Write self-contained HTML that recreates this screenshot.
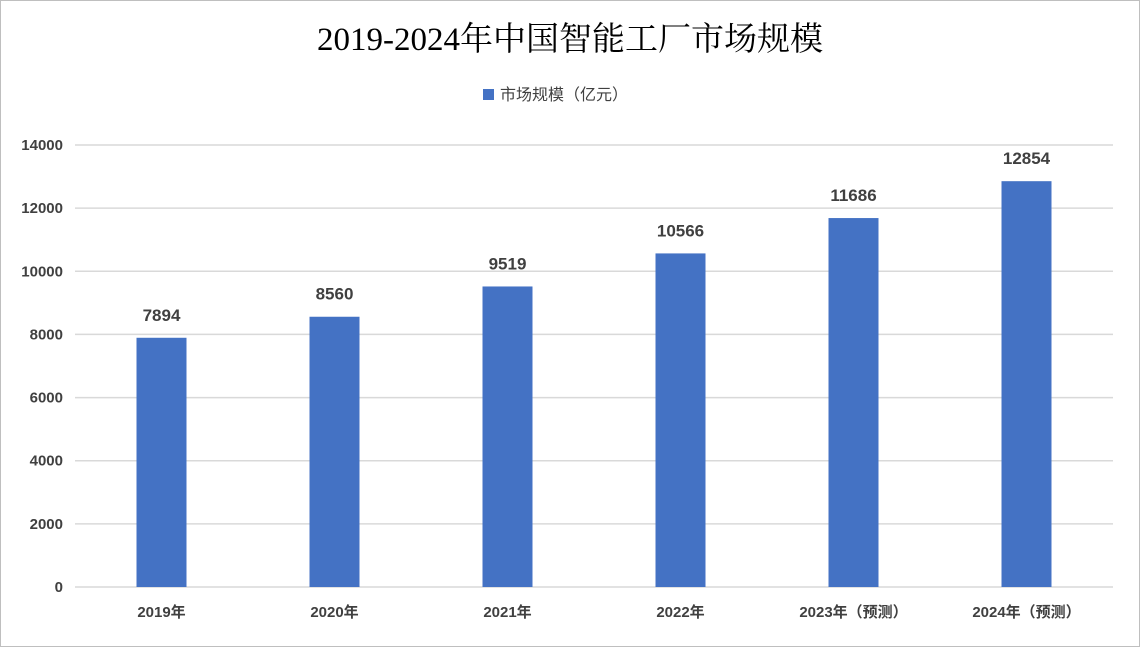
<!DOCTYPE html>
<html><head><meta charset="utf-8"><style>
body{margin:0;background:#fff}
svg{display:block}
</style></head><body>
<svg id="c" width="1140" height="647" xmlns="http://www.w3.org/2000/svg">
<rect x="0.5" y="0.5" width="1139" height="646" fill="#fff" stroke="#bfbfbf"/>
<text x="570" y="50" text-anchor="middle" font-family="'Liberation Serif','Noto Serif CJK SC',serif" font-size="33" fill="#000">2019-2024年中国智能工厂市场规模</text>
<g>
<rect x="483" y="89" width="11" height="11" fill="#4472c4"/>
<text x="500" y="100" font-family="'Liberation Sans','Noto Sans CJK SC',sans-serif" font-size="16" fill="#404040">市场规模（亿元）</text>
</g>
<g id="grid"></g><g id="bars"></g>
</svg>
<script>
const categories=["2019年","2020年","2021年","2022年","2023年（预测）","2024年（预测）"];
const values=[7894,8560,9519,10566,11686,12854];
const ticks=[0,2000,4000,6000,8000,10000,12000,14000];
const NS="http://www.w3.org/2000/svg";
const x0=75,x1=1113,y0=587,y1=145,ymax=14000;
const y=v=>y0-(v/ymax)*(y0-y1);
const band=(x1-x0)/categories.length;
const xc=i=>x0+band*(i+0.5);
function mk(t,a,p){const e=document.createElementNS(NS,t);for(const k in a)e.setAttribute(k,a[k]);p.appendChild(e);return e;}
const g=document.getElementById('grid'),b=document.getElementById('bars');
const F="'Liberation Sans','Noto Sans CJK SC',sans-serif";
ticks.forEach(t=>{
 const l=mk('line',{x1:x0,x2:x1,y1:y(t),y2:y(t),stroke:'#d9d9d9','stroke-width':1.5},g);
 
 
 const tx=mk('text',{x:63,y:y(t)+5,'text-anchor':'end','font-family':F,'font-size':15,'font-weight':'bold',fill:'#404040'},g);
 tx.textContent=t;
 
 
});
categories.forEach((c,i)=>{
 const v=values[i];
 const r=mk('rect',{x:xc(i)-25,y:y(v),width:50,height:y0-y(v),fill:'#4472c4'},b);
 
 
 const lb=mk('text',{x:xc(i),y:y(v)-17,'text-anchor':'middle','font-family':F,'font-size':17,'font-weight':'bold',fill:'#404040'},b);
 lb.textContent=v;
 
 
 const xl=mk('text',{x:xc(i),y:617,'text-anchor':'middle','font-family':F,'font-size':15,'font-weight':'bold',fill:'#404040'},b);
 xl.textContent=c;
 
 
});
</script>
</body></html>
